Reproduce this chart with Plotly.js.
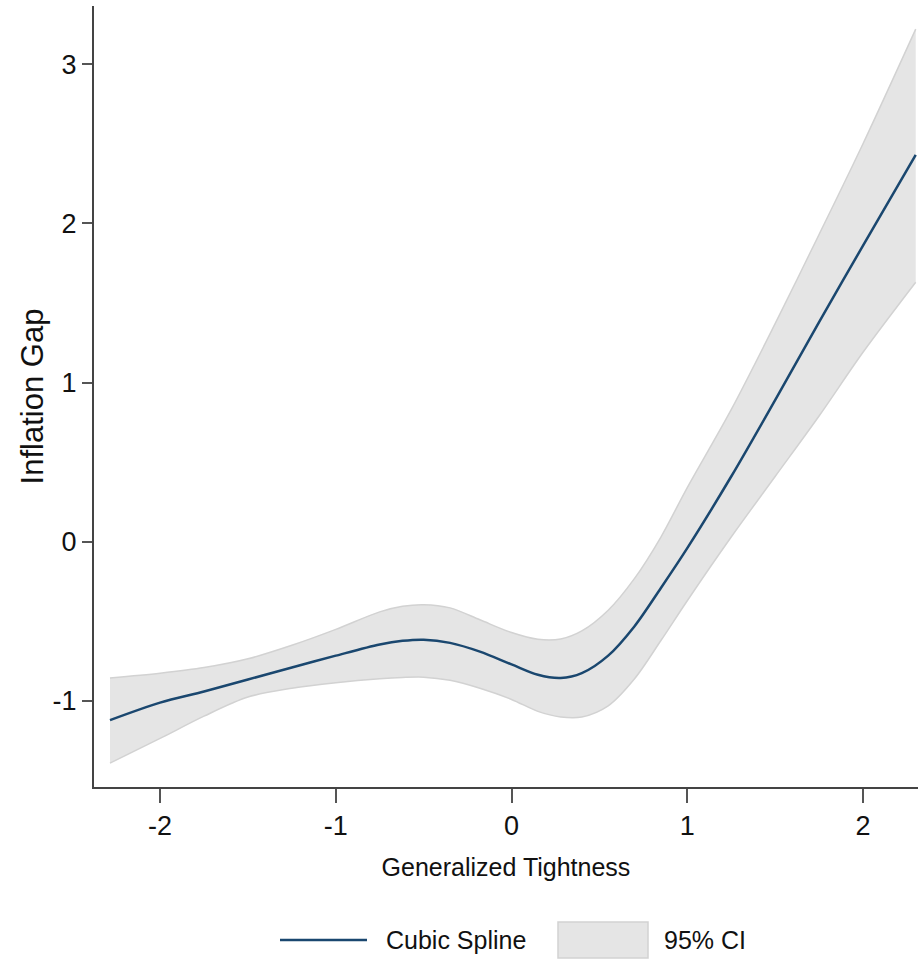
<!DOCTYPE html>
<html>
<head>
<meta charset="utf-8">
<script src="https://cdn.plot.ly/plotly-3.0.1.min.js"></script>
<style>html,body{margin:0;padding:0;background:#fff;}#chart{width:918px;height:963px;}</style>
</head>
<body>
<div id="chart"></div>
<script>
// Generalized Tightness grid
const tightness = [-2.285, -2.0, -1.75, -1.5, -1.25, -1.0, -0.75, -0.62, -0.5, -0.35, -0.18, 0.0, 0.15, 0.28, 0.4, 0.55, 0.7, 0.85, 1.0, 1.25, 1.5, 1.75, 2.0, 2.3];
// Cubic spline fit (Inflation Gap)
const splineFit = [-1.12, -1.01, -0.94, -0.865, -0.79, -0.715, -0.645, -0.622, -0.615, -0.635, -0.69, -0.77, -0.835, -0.855, -0.825, -0.715, -0.53, -0.29, -0.04, 0.41, 0.89, 1.38, 1.86, 2.43];
// 95% CI bounds
const ciUpper = [-0.855, -0.825, -0.79, -0.735, -0.65, -0.55, -0.44, -0.405, -0.395, -0.415, -0.49, -0.57, -0.612, -0.61, -0.56, -0.43, -0.23, 0.03, 0.34, 0.83, 1.37, 1.93, 2.50, 3.22];
const ciLower = [-1.39, -1.235, -1.095, -0.975, -0.92, -0.885, -0.86, -0.852, -0.85, -0.87, -0.92, -0.99, -1.065, -1.10, -1.10, -1.03, -0.86, -0.62, -0.37, 0.03, 0.41, 0.79, 1.19, 1.63];
// Axis ticks
const xTicks = [-2, -1, 0, 1, 2];
const xTickLabels = ['-2', '-1', '0', '1', '2'];
const yTicks = [-1, 0, 1, 2, 3];
const yTickLabels = ['-1', '0', '1', '2', '3'];
const legendLabels = ['Cubic Spline', '95% CI'];

const lineColor = '#1a476f';
const bandFill = '#e5e5e5';
const bandEdge = '#d2d2d2';
const sans = '"Liberation Sans", Arial, sans-serif';

const traces = [
  {x: tightness, y: ciLower, type: 'scatter', mode: 'lines', line: {color: bandEdge, width: 1.5, shape: 'spline', smoothing: 0.9}, showlegend: false, hoverinfo: 'skip'},
  {x: tightness, y: ciUpper, type: 'scatter', mode: 'lines', fill: 'tonexty', fillcolor: bandFill, line: {color: bandEdge, width: 1.5, shape: 'spline', smoothing: 0.9}, name: legendLabels[1], showlegend: false},
  {x: tightness, y: splineFit, type: 'scatter', mode: 'lines', line: {color: lineColor, width: 2.5, shape: 'spline', smoothing: 0.9}, name: legendLabels[0], showlegend: false}
];

const px = v => (v - 94) / 824;
const py = v => (787 - v) / 781;

const layout = {
  width: 918, height: 963,
  margin: {l: 94, r: 0, t: 6, b: 176, pad: 0},
  paper_bgcolor: '#fff', plot_bgcolor: '#fff',
  showlegend: false,
  xaxis: {
    range: [-2.376, 2.313], tickvals: xTicks, ticktext: xTickLabels,
    ticks: 'outside', ticklen: 14, tickwidth: 2, tickcolor: '#555',
    showline: true, linecolor: '#444', linewidth: 2, showgrid: false, zeroline: false,
    tickfont: {family: sans, size: 27, color: '#111'},
    title: {text: 'Generalized Tightness', font: {family: sans, size: 25, color: '#111'}, standoff: 18}
  },
  yaxis: {
    range: [-1.54, 3.365], tickvals: yTicks, ticktext: yTickLabels,
    ticks: 'outside', ticklen: 10, tickwidth: 2, tickcolor: '#555',
    showline: true, linecolor: '#444', linewidth: 2, showgrid: false, zeroline: false,
    tickfont: {family: sans, size: 27, color: '#111'},
    title: {text: 'Inflation Gap', font: {family: sans, size: 31, color: '#111'}, standoff: 0}
  },
  shapes: [
    {type: 'line', xref: 'paper', yref: 'paper', x0: px(280), x1: px(367), y0: py(940), y1: py(940), line: {color: lineColor, width: 2.5}},
    {type: 'rect', xref: 'paper', yref: 'paper', x0: px(558), x1: px(648), y0: py(958), y1: py(922), fillcolor: bandFill, line: {color: bandEdge, width: 1.5}}
  ],
  annotations: [
    {xref: 'paper', yref: 'paper', x: px(384), y: py(940), xanchor: 'left', yanchor: 'middle', showarrow: false, text: legendLabels[0], font: {family: sans, size: 25, color: '#111'}},
    {xref: 'paper', yref: 'paper', x: px(662), y: py(940), xanchor: 'left', yanchor: 'middle', showarrow: false, text: legendLabels[1], font: {family: sans, size: 25, color: '#111'}}
  ]
};

Plotly.newPlot('chart', traces, layout, {displayModeBar: false, staticPlot: true});
</script>
</body>
</html>
